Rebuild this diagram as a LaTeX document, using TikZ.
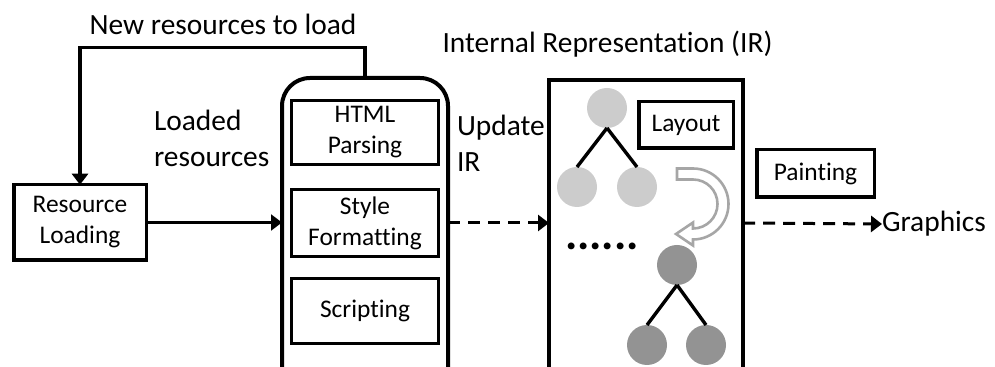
\documentclass[tikz,border=0pt]{standalone}
\usepackage{fontspec}
\setmainfont{Carlito}[Ligatures=CommonOff]
\usetikzlibrary{arrows.meta}

\definecolor{lightnode}{HTML}{CCCCCC}
\definecolor{darknode}{HTML}{939393}
\definecolor{bendgray}{HTML}{A6A6A6}
\newcommand{\boxfont}{\fontsize{12.7}{15.5}\selectfont}
\newcommand{\lblfont}{\fontsize{14.7}{18}\selectfont}

\begin{document}
\begin{tikzpicture}[x=0.5pt,y=-0.5pt,>={Triangle[length=5.5pt,width=8pt]},
	box/.style={draw,line width=1.6pt,inner sep=0pt,outer sep=0pt,align=center,font=\boxfont},
	lbl/.style={inner sep=0pt,outer sep=0pt,align=left,font=\lblfont},
	light node/.style={circle,fill=lightnode,minimum size=20pt,inner sep=0pt,outer sep=0pt},
	dark node/.style={circle,fill=darknode,minimum size=20pt,inner sep=0pt,outer sep=0pt},
	tree line/.style={line width=1.7pt},
	dash arrow/.style={->,line width=1.5pt,dash pattern=on 6pt off 4pt}]
	
	\useasboundingbox (0,0) rectangle (995,367);
	\clip (0,0) rectangle (995,367);
	
	% loader and parser
	\node[box,line width=1.75pt,minimum width=66.25pt,minimum height=37.75pt] (res) at (80,222.5) {Resource\\Loading};
	\node[box,line width=2pt,rounded corners=14pt,minimum width=83pt,minimum height=160pt] (proc) at (365,238) {};
	\node[box,minimum width=73.5pt,minimum height=32pt] (html) at (365,132.5) {HTML\\Parsing};
	\node[box,minimum width=73.5pt,minimum height=33.5pt] (sf) at (365,223) {Style\\Formatting};
	\node[box,minimum width=73.5pt,minimum height=32.5pt] (scr) at (365,311) {Scripting};
	
	% IR
	\node[box,line width=2pt,minimum width=97pt,minimum height=160pt] (ir) at (646,240) {};
	\node[box,line width=1.75pt,minimum width=47.25pt,minimum height=23.25pt] (layout) at (686,125) {Layout};
	\node[box,line width=1.75pt,minimum width=58.75pt,minimum height=23.75pt] (paint) at (815.5,173.5) {Painting};
	
	\node[light node] (t1) at (607,108) {};
	\node[light node] (l1) at (577,187) {};
	\node[light node] (r1) at (637,187) {};
	\node[dark node] (t2) at (677,265) {};
	\node[dark node] (l2) at (647,345) {};
	\node[dark node] (r2) at (706,345) {};
	\draw[tree line] (t1.south) -- (l1.north) (t1.south) -- (r1.north);
	\draw[tree line] (t2.south) -- (l2.north) (t2.south) -- (r2.north);
	\node[inner sep=0pt,anchor=base,font=\fontsize{23}{23}\selectfont\bfseries] (dots) at (602,249.5) {......};
	
	% hollow bent arrow
	\draw[bendgray,fill=white,line width=1.3pt,line join=miter]
	(677,168.5) -- (693,168.5) arc[start angle=-90,end angle=90,radius=35.5]
	-- (693,245.5) -- (676,234) -- (693,222.5) -- (693,228.5)
	arc[start angle=90,end angle=-90,radius=24.5] -- (677,179.5) -- cycle;
	
	% labels
	\node[lbl,anchor=base] (newlbl) at (223,34.5) {New resources to load};
	\node[lbl,anchor=base west] (loaded) at (154,167) {Loaded\\resources};
	\node[lbl,anchor=base west] (upd) at (457,172) {Update\\IR};
	\node[lbl,anchor=base] (irlbl) at (607.5,53) {Internal Representation (IR)};
	\node[lbl,anchor=west] (gfx) at (882,224) {Graphics};
	
	% connectors
	\draw[->,line width=1.6pt] (proc.north) -- ++(0,-30.5) -| (res.north);
	\draw[->,line width=1.1pt] (res.east) -- (proc.west |- res.east);
	\draw[dash arrow] (proc.east |- sf) -- (ir.west |- sf);
	\draw[dash arrow] (ir.east |- sf) -- (gfx.west);
\end{tikzpicture}
\end{document}
